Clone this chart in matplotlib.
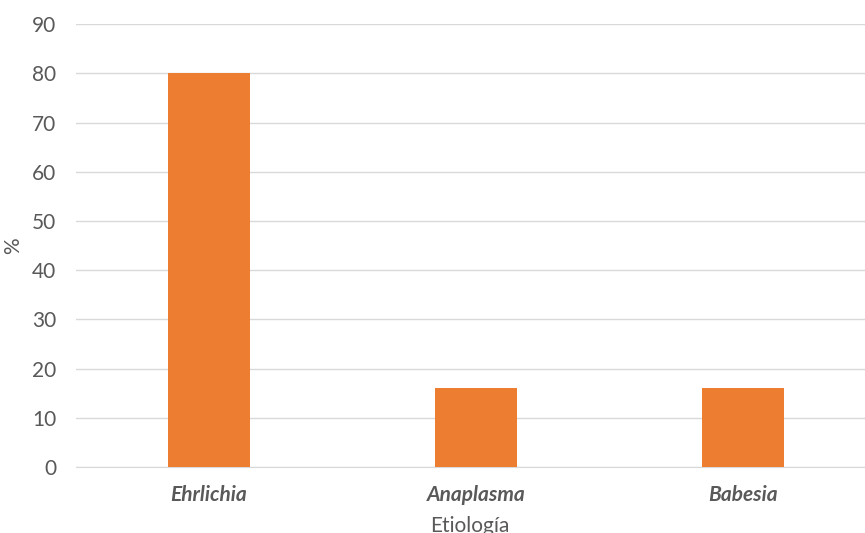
import matplotlib
matplotlib.use("Agg")
import matplotlib.pyplot as plt

categorias = ["Ehrlichia", "Anaplasma", "Babesia"]
porcentajes = [80, 16, 16]
yticks = list(range(0, 100, 10))

plt.rcParams["font.family"] = ["Lato", "DejaVu Sans"]

fig = plt.figure(figsize=(8.65, 5.33), dpi=100)
ax = fig.add_axes([0.0873, 0.1238, 0.9127, 0.8306])

x = range(len(categorias))
ax.bar(x, porcentajes, width=0.31, color="#ED7D31", zorder=3)

ax.set_ylim(0, 90)
ax.set_xlim(-0.5, -0.5 + 789.5 / 267)
ax.set_yticks(yticks)
ax.set_xticks(list(x))
ax.set_xticklabels(categorias, fontstyle="italic", fontweight="bold", fontsize=15)
ax.tick_params(axis="both", length=0, colors="#595959", labelsize=15)
ax.tick_params(axis="y", pad=14)
ax.tick_params(axis="x", pad=13)

ax.grid(axis="y", color="#D9D9D9", lw=1, zorder=0)
for s in ["top", "right", "left"]:
    ax.spines[s].set_visible(False)
ax.spines["bottom"].set_color("#D9D9D9")

ax.set_ylabel("%", color="#595959", fontsize=15, labelpad=6)
ax.set_xlabel("Etiología", color="#595959", fontsize=15, labelpad=8)

fig.savefig("out.png", dpi=100)
